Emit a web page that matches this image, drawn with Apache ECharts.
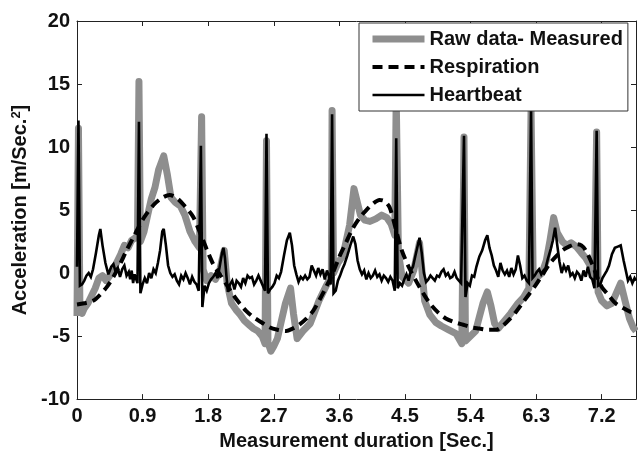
<!DOCTYPE html>
<html>
<head>
<meta charset="utf-8">
<script src="https://cdn.jsdelivr.net/npm/echarts@6/dist/echarts.min.js"></script>
<style>
html,body{margin:0;padding:0;background:#fff;}
#c{width:638px;height:456px;}
</style>
</head>
<body>
<div id="c"></div>
<script>
// ---- data (time in seconds, acceleration in m/Sec.^2) ----
var seriesNames = ['Raw data- Measured', 'Respiration', 'Heartbeat'];
var xTicks = [0, 0.9, 1.8, 2.7, 3.6, 4.5, 5.4, 6.3, 7.2];
var yTicks = [-10, -5, 0, 5, 10, 15, 20];

var rawT = [0.00,0.02,0.04,0.07,0.10,0.15,0.20,0.25,0.30,0.35,0.40,0.45,0.50,0.55,0.60,0.65,0.70,0.75,0.80,0.83,0.85,0.87,0.92,0.97,1.02,1.07,1.12,1.19,1.24,1.29,1.35,1.42,1.48,1.55,1.62,1.68,1.71,1.73,1.78,1.84,1.90,1.95,2.00,2.02,2.06,2.12,2.18,2.24,2.30,2.36,2.42,2.48,2.54,2.58,2.60,2.62,2.66,2.70,2.75,2.80,2.86,2.93,2.97,3.02,3.10,3.20,3.32,3.42,3.49,3.50,3.52,3.58,3.65,3.74,3.80,3.89,3.95,4.02,4.10,4.18,4.25,4.31,4.36,4.38,4.41,4.46,4.55,4.62,4.70,4.77,4.84,4.92,5.00,5.10,5.20,5.28,5.31,5.33,5.40,5.47,5.52,5.57,5.63,5.68,5.73,5.78,5.85,5.95,6.05,6.13,6.20,6.23,6.26,6.32,6.38,6.44,6.49,6.54,6.59,6.66,6.72,6.78,6.85,6.92,6.98,7.04,7.10,7.13,7.15,7.20,7.27,7.34,7.40,7.46,7.52,7.58,7.63,7.67];
var rawV = [-3.4,11.5,-3.0,-3.2,-2.8,-2.4,-1.8,-1.2,-0.4,-0.2,-0.6,-0.2,0.3,0.9,1.5,2.2,2.0,2.6,2.8,3.0,15.2,2.5,3.3,4.6,5.9,6.8,8.2,9.3,7.8,6.0,5.6,5.3,4.6,3.3,2.5,2.0,12.4,0.3,-0.6,-0.2,-0.5,0.0,1.3,1.8,-0.8,-2.4,-2.9,-3.3,-3.8,-4.1,-4.4,-4.6,-5.0,-5.6,10.5,-5.5,-6.2,-5.8,-5.2,-3.9,-2.4,-1.2,-3.2,-5.2,-4.6,-4.0,-2.2,-1.0,-0.3,12.9,0.0,0.8,1.4,3.8,6.7,4.6,4.2,4.1,4.3,4.6,4.4,3.9,3.0,14.0,1.6,-0.3,-0.8,0.2,2.4,-2.2,-3.3,-3.9,-4.2,-4.5,-4.8,-5.6,10.8,-5.4,-5.0,-4.6,-3.5,-2.4,-1.5,-2.6,-4.0,-4.4,-3.9,-3.2,-2.4,-1.9,-1.2,13.0,-0.8,-0.3,0.0,1.0,2.6,4.4,3.2,2.5,2.2,2.4,2.1,1.6,1.2,0.6,-0.4,11.2,-1.5,-2.2,-2.6,-2.4,-1.6,-0.8,-2.2,-3.6,-4.3,-4.6];

var respT = [0.00,0.10,0.22,0.32,0.41,0.50,0.59,0.68,0.77,0.86,0.93,1.05,1.15,1.27,1.38,1.48,1.59,1.66,1.73,1.80,1.87,1.96,2.05,2.14,2.23,2.32,2.42,2.53,2.64,2.75,2.87,2.96,3.05,3.15,3.24,3.33,3.42,3.51,3.60,3.69,3.78,3.88,3.97,4.06,4.15,4.22,4.29,4.37,4.45,4.55,4.65,4.75,4.84,4.95,5.06,5.18,5.30,5.41,5.52,5.63,5.75,5.84,5.93,6.02,6.11,6.20,6.30,6.39,6.48,6.57,6.66,6.75,6.85,6.92,6.98,7.07,7.13,7.20,7.30,7.39,7.50,7.60,7.67];
var respV = [-2.5,-2.4,-2.2,-1.7,-1.1,-0.3,0.7,1.8,2.8,3.8,4.5,5.4,5.9,6.2,5.9,5.3,4.5,3.6,2.6,1.6,0.7,-0.1,-0.9,-1.7,-2.4,-3.0,-3.5,-3.9,-4.3,-4.5,-4.6,-4.4,-4.1,-3.6,-3.0,-2.1,-1.1,0.0,1.3,2.4,3.5,4.4,5.0,5.5,5.8,5.7,5.2,3.6,1.9,0.5,-0.6,-1.6,-2.4,-3.1,-3.6,-3.9,-4.1,-4.3,-4.4,-4.5,-4.5,-4.2,-3.7,-3.1,-2.4,-1.7,-0.9,-0.1,0.7,1.3,1.8,2.1,2.3,2.2,1.8,0.7,-0.2,-1.1,-1.8,-2.4,-2.8,-3.1,-3.2];

var heartT = [0.00,0.02,0.04,0.07,0.10,0.13,0.16,0.19,0.22,0.26,0.30,0.32,0.35,0.39,0.43,0.47,0.50,0.53,0.56,0.59,0.62,0.65,0.68,0.71,0.73,0.75,0.77,0.79,0.83,0.85,0.87,0.90,0.93,0.96,0.99,1.02,1.05,1.08,1.11,1.14,1.17,1.19,1.22,1.25,1.28,1.31,1.34,1.37,1.40,1.43,1.46,1.49,1.52,1.55,1.58,1.61,1.64,1.67,1.70,1.72,1.75,1.78,1.81,1.84,1.87,1.90,1.93,1.96,1.99,2.01,2.03,2.05,2.07,2.10,2.13,2.16,2.19,2.22,2.25,2.28,2.31,2.34,2.37,2.40,2.43,2.46,2.49,2.52,2.55,2.58,2.60,2.62,2.65,2.68,2.71,2.74,2.77,2.80,2.84,2.88,2.92,2.95,2.98,3.01,3.04,3.07,3.10,3.13,3.16,3.19,3.22,3.25,3.28,3.31,3.34,3.37,3.40,3.43,3.46,3.48,3.50,3.52,3.55,3.58,3.61,3.64,3.67,3.71,3.75,3.79,3.82,3.85,3.88,3.91,3.94,3.97,4.00,4.03,4.06,4.09,4.12,4.15,4.18,4.21,4.24,4.27,4.30,4.33,4.36,4.38,4.40,4.43,4.46,4.49,4.52,4.55,4.58,4.61,4.64,4.68,4.70,4.73,4.76,4.79,4.82,4.85,4.88,4.91,4.94,4.97,5.00,5.03,5.06,5.09,5.12,5.15,5.18,5.21,5.24,5.27,5.31,5.33,5.36,5.39,5.42,5.45,5.48,5.52,5.56,5.60,5.63,5.66,5.69,5.72,5.75,5.78,5.81,5.84,5.87,5.90,5.93,5.96,5.99,6.02,6.05,6.08,6.11,6.14,6.17,6.20,6.23,6.25,6.28,6.31,6.34,6.37,6.40,6.43,6.46,6.50,6.53,6.56,6.59,6.62,6.65,6.68,6.71,6.74,6.77,6.80,6.83,6.86,6.89,6.92,6.95,6.98,7.01,7.04,7.07,7.10,7.13,7.15,7.18,7.21,7.24,7.27,7.30,7.34,7.38,7.42,7.46,7.50,7.53,7.56,7.59,7.62,7.65,7.67];
var heartV = [0.5,12.1,-1.0,-0.9,-0.6,-0.2,0.0,-0.3,0.3,1.6,3.0,3.5,2.2,0.8,-0.1,0.5,0.7,0.1,0.4,-0.3,0.3,0.6,-0.2,0.1,-0.5,0.2,-0.8,-0.1,-0.8,12.0,-1.6,-0.9,-0.4,-0.8,0.0,-0.4,0.3,0.0,0.8,1.8,3.3,3.5,2.2,0.6,0.0,-0.3,-0.1,-0.6,-0.9,-0.2,-0.5,0.0,-0.4,-0.9,-0.3,-0.7,-0.9,-1.4,10.1,-2.7,-1.0,-1.4,-0.8,-0.5,-0.3,0.0,-0.4,0.6,1.6,2.0,1.2,-0.2,-1.5,-0.9,-0.6,-1.3,-0.6,-0.8,-1.1,-0.4,-0.8,-0.2,-0.4,-0.3,-0.9,-0.6,-0.2,-0.6,-1.0,-1.4,11.05,-1.6,-1.3,-1.1,-0.8,-0.2,-0.4,0.1,1.4,2.6,3.2,2.2,0.6,-0.1,-0.7,-0.3,-0.5,-0.2,-0.5,-0.3,0.6,0.2,-0.2,0.4,-0.1,0.3,-0.5,0.2,-0.3,-0.9,12.6,-1.6,-1.4,-0.6,-0.2,0.3,0.7,1.4,2.2,2.9,2.3,1.0,0.3,-0.1,0.2,-0.5,0.0,-0.4,-0.2,0.2,-0.3,-0.1,-0.6,-0.2,-0.4,-0.7,-0.3,-0.6,-1.4,10.7,-1.2,-0.8,-1.0,-0.5,-0.1,-0.6,0.2,0.5,1.3,2.3,2.8,1.6,0.0,-0.7,-0.5,-0.2,-0.4,-0.6,-0.2,-0.3,0.1,0.3,-0.2,0.0,-0.4,-0.3,0.1,-0.4,-0.6,-0.8,10.9,-1.9,-0.8,-1.0,-0.2,-0.3,0.5,1.3,1.8,2.6,3.0,2.0,1.4,0.6,0.2,-0.3,0.8,0.2,-0.1,0.2,-0.3,0.4,-0.1,0.3,1.4,0.6,-0.4,-0.2,-0.6,-0.8,13.0,-0.4,-0.2,0.1,0.3,-0.1,0.2,0.4,1.1,1.9,2.6,3.6,2.2,0.9,0.0,0.6,0.2,0.6,-0.2,0.0,-0.4,0.1,-0.1,-0.6,0.2,-0.3,0.5,-0.3,-0.5,-1.2,11.3,-1.0,-0.9,-0.4,-0.1,0.2,0.6,1.5,2.0,2.1,2.2,1.0,0.2,-0.6,-0.3,-0.8,-0.4,-0.6];

function zip(t, v) { var out = []; for (var i = 0; i < t.length; i++) out.push([t[i], v[i]]); return out; }

var FONT = '"Liberation Sans", Arial, sans-serif';
var txt = { fontFamily: FONT, fontSize: 20, fontWeight: 'bold', color: '#111' };
var xMin = xTicks[0], xMax = 7.67, xStep = xTicks[1] - xTicks[0];
var yMin = yTicks[0], yMax = yTicks[yTicks.length - 1], yStep = yTicks[1] - yTicks[0];

function fmtX(v) { return String(Math.round(v * 10) / 10); }

var axisLine = { show: true, onZero: false, lineStyle: { color: '#222', width: 1 } };
var tickIn = { show: true, inside: true, length: 5, lineStyle: { color: '#222', width: 1 } };

var styles = [
  { color: '#8e8e8e', width: 7, type: 'solid' },
  { color: '#000', width: 4, type: [10, 6] },
  { color: '#000', width: 2.6, type: 'solid' }
];

var chart = echarts.init(document.getElementById('c'), null, { renderer: 'canvas' });
chart.setOption({
  animation: false,
  backgroundColor: '#fff',
  grid: { left: 77, right: 2, top: 21, bottom: 53, containLabel: false },
  legend: {
    orient: 'vertical', left: 359, top: 23,
    backgroundColor: '#fff', borderColor: '#333', borderWidth: 1, borderRadius: 0,
    padding: [6, 5, 6, 10], itemGap: 8, itemWidth: 52, itemHeight: 20,
    itemStyle: { opacity: 0 },
    textStyle: { fontFamily: FONT, fontSize: 20, fontWeight: 'bold', color: '#111' },
    data: seriesNames.map(function (n, i) {
      return { name: n, lineStyle: { color: styles[i].color, width: styles[i].width, type: styles[i].type } };
    })
  },
  xAxis: [
    { type: 'value', position: 'bottom', min: xMin, max: xMax, interval: xStep,
      axisLine: axisLine, axisTick: tickIn, splitLine: { show: false },
      axisLabel: Object.assign({ margin: 7, showMaxLabel: false, formatter: fmtX }, txt),
      name: 'Measurement duration [Sec.]', nameLocation: 'middle', nameGap: 23,
      nameTextStyle: txt },
    { type: 'value', position: 'top', min: xMin, max: xMax, interval: xStep,
      axisLine: axisLine, axisTick: tickIn, axisLabel: { show: false }, splitLine: { show: false } }
  ],
  yAxis: [
    { type: 'value', position: 'left', min: yMin, max: yMax, interval: yStep,
      axisLine: axisLine, axisTick: tickIn, splitLine: { show: false },
      axisLabel: Object.assign({ margin: 7 }, txt),
      name: 'Acceleration [m/Sec.{s|2}]', nameLocation: 'middle', nameGap: 42, nameRotate: 90,
      nameTextStyle: Object.assign({ rich: { s: { fontFamily: FONT, fontSize: 13, fontWeight: 'bold', color: '#111', verticalAlign: 'top', lineHeight: 20 } } }, txt) },
    { type: 'value', position: 'right', min: yMin, max: yMax, interval: yStep,
      axisLine: axisLine, axisTick: tickIn, axisLabel: { show: false }, splitLine: { show: false } }
  ],
  series: [
    { name: seriesNames[0], type: 'line', xAxisIndex: 0, yAxisIndex: 0, symbol: 'none',
      data: zip(rawT, rawV), z: 1,
      lineStyle: { color: styles[0].color, width: styles[0].width, join: 'round' }, itemStyle: { color: styles[0].color } },
    { name: seriesNames[1], type: 'line', xAxisIndex: 0, yAxisIndex: 0, symbol: 'none', smooth: 0.3,
      data: zip(respT, respV), z: 2,
      lineStyle: { color: styles[1].color, width: styles[1].width, type: styles[1].type }, itemStyle: { color: '#000' } },
    { name: seriesNames[2], type: 'line', xAxisIndex: 0, yAxisIndex: 0, symbol: 'none',
      data: zip(heartT, heartV), z: 3,
      lineStyle: { color: styles[2].color, width: styles[2].width, join: 'miter', miterLimit: 3 }, itemStyle: { color: '#000' } }
  ]
});
</script>
</body>
</html>
